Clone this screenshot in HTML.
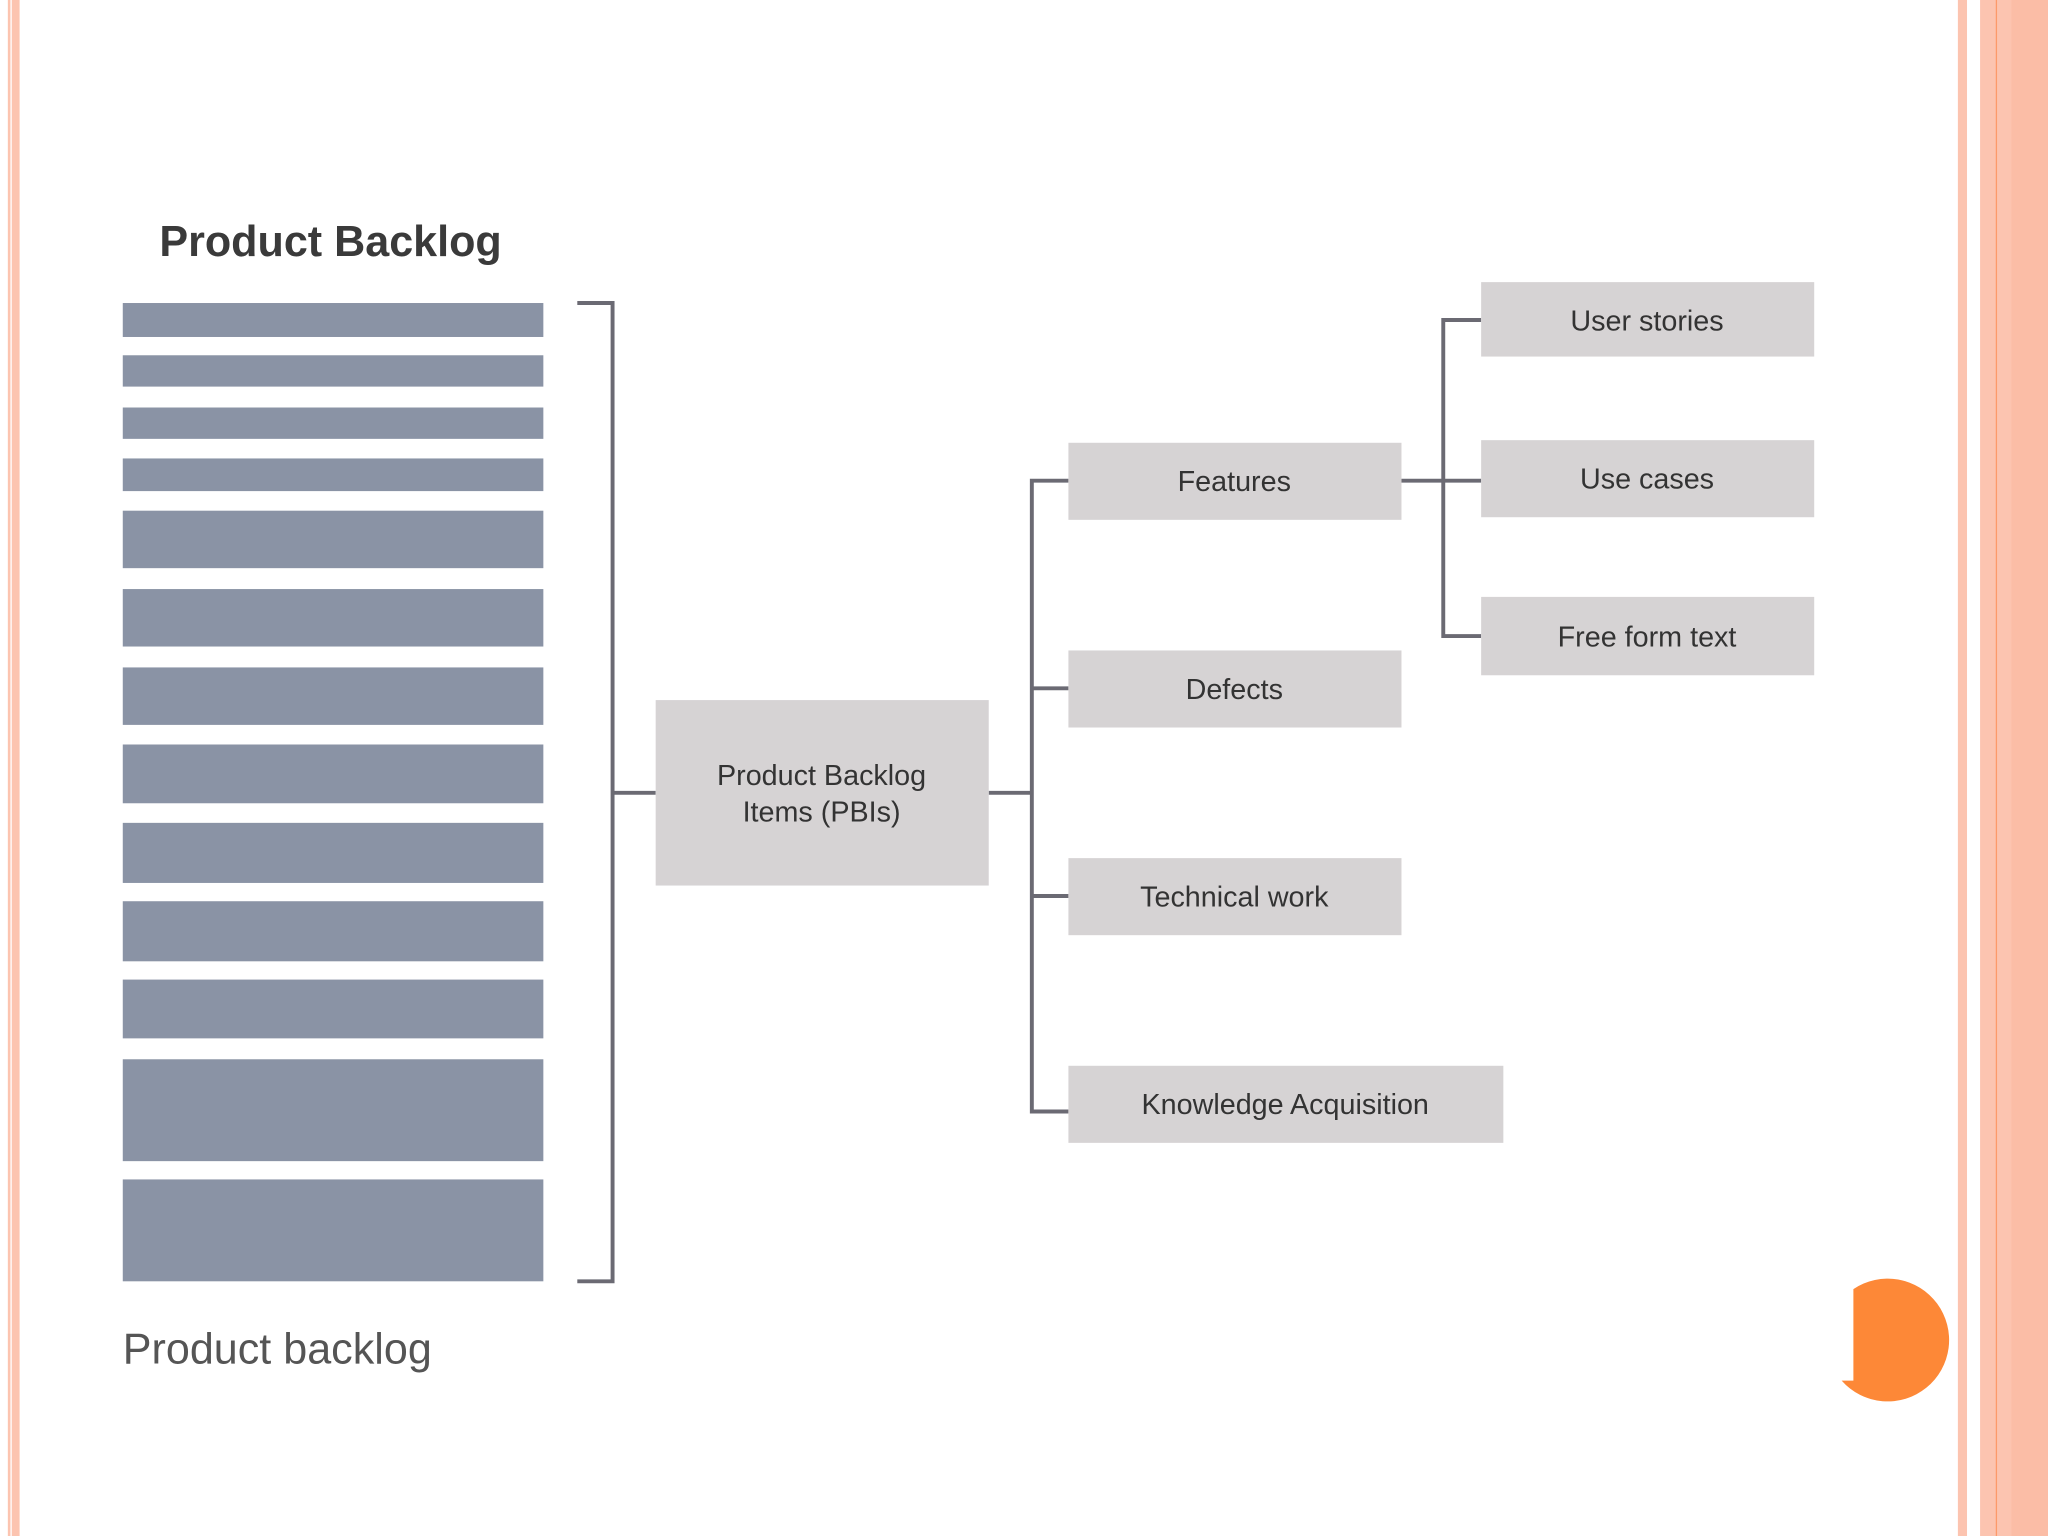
<!DOCTYPE html>
<html><head><meta charset="utf-8"><style>html,body{margin:0;padding:0;background:#fff;width:2048px;height:1536px;overflow:hidden}</style></head>
<body>
<svg width="2048" height="1536" viewBox="0 0 1568 1176" xmlns="http://www.w3.org/2000/svg" style="display:block">
<rect x="0" y="0" width="1568" height="1176" fill="#fff"/>
<!-- left border -->
<rect x="6" y="0" width="2" height="1176" fill="#fcc4b0"/>
<rect x="9" y="0" width="6" height="1176" fill="#fcc4b0"/>
<!-- right border -->
<rect x="1499" y="0" width="7" height="1176" fill="#fcc4b0"/>
<rect x="1516" y="0" width="52" height="1176" fill="#fcc4b0"/>
<rect x="1528" y="0" width="1" height="1176" fill="#fd9a6a"/>
<rect x="1540" y="0" width="28" height="1176" fill="#fbbda6"/>
<!-- orange circle -->
<path d="M1419 987 A47 47 0 1 1 1410 1057 L1419 1057 Z" fill="#fd8837"/>
<!-- title -->
<text x="122" y="196" font-family="Liberation Sans, sans-serif" font-weight="bold" font-size="33" fill="#3a3a3a">Product Backlog</text>
<!-- bars -->
<g fill="#8a93a5">
<rect x="94" y="232" width="322" height="26"/>
<rect x="94" y="272" width="322" height="24"/>
<rect x="94" y="312" width="322" height="24"/>
<rect x="94" y="351" width="322" height="25"/>
<rect x="94" y="391" width="322" height="44"/>
<rect x="94" y="451" width="322" height="44"/>
<rect x="94" y="511" width="322" height="44"/>
<rect x="94" y="570" width="322" height="45"/>
<rect x="94" y="630" width="322" height="46"/>
<rect x="94" y="690" width="322" height="46"/>
<rect x="94" y="750" width="322" height="45"/>
<rect x="94" y="811" width="322" height="78"/>
<rect x="94" y="903" width="322" height="78"/>
</g>
<text x="94" y="1044" font-family="Liberation Sans, sans-serif" font-size="33" fill="#555">Product backlog</text>
<!-- connectors -->
<g stroke="#6b6a73" stroke-width="3" fill="none">
<polyline points="442,232 469,232 469,981 442,981"/>
<line x1="469" y1="607" x2="502" y2="607"/>
<line x1="757" y1="607" x2="790" y2="607"/>
<polyline points="818,368 790,368 790,851 818,851"/>
<line x1="790" y1="527" x2="818" y2="527"/>
<line x1="790" y1="686" x2="818" y2="686"/>
<line x1="1073" y1="368" x2="1134" y2="368"/>
<polyline points="1134,245 1105,245 1105,487 1134,487"/>
</g>
<!-- boxes -->
<g fill="#d6d3d4">
<rect x="502" y="536" width="255" height="142"/>
<rect x="818" y="339" width="255" height="59"/>
<rect x="818" y="498" width="255" height="59"/>
<rect x="818" y="657" width="255" height="59"/>
<rect x="818" y="816" width="333" height="59"/>
<rect x="1134" y="216" width="255" height="57"/>
<rect x="1134" y="337" width="255" height="59"/>
<rect x="1134" y="457" width="255" height="60"/>
</g>
<g font-family="Liberation Sans, sans-serif" font-size="22" fill="#333" text-anchor="middle">
<text x="629" y="601">Product Backlog</text>
<text x="629" y="629">Items (PBIs)</text>
<text x="945" y="376">Features</text>
<text x="945" y="535">Defects</text>
<text x="945" y="694">Technical work</text>
<text x="984" y="853">Knowledge Acquisition</text>
<text x="1261" y="253">User stories</text>
<text x="1261" y="374">Use cases</text>
<text x="1261" y="495">Free form text</text>
</g>
</svg>
</body></html>
